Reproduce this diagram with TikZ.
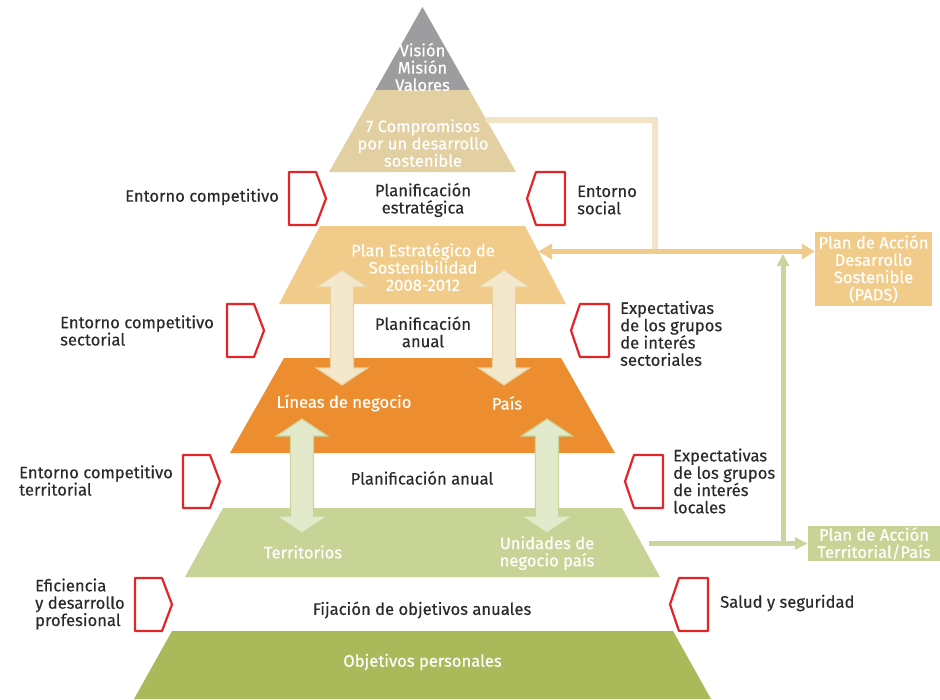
\documentclass[tikz,border=0pt]{standalone}
\usepackage{fontspec}
\setmainfont{Fira Sans}[FakeBold=0.35]
\usetikzlibrary{arrows.meta}

\definecolor{ink}{HTML}{2A2A2A}
\definecolor{tagred}{HTML}{E42528}
\definecolor{lvGrey}{HTML}{9D9C9E}
\definecolor{lvSand}{HTML}{E3D0A2}
\definecolor{lvTan}{HTML}{F0CB89}
\definecolor{lvOrange}{HTML}{EC8D2F}
\definecolor{lvLime}{HTML}{C7D496}
\definecolor{lvOlive}{HTML}{AABA5A}
\definecolor{linkSand}{HTML}{F2E4C4}
\definecolor{baFillSand}{HTML}{F4E8CC}
\definecolor{baEdgeSand}{HTML}{E9D3A4}
\definecolor{baFillLime}{HTML}{E3EACB}
\definecolor{baEdgeLime}{HTML}{C8D59C}

\newcommand{\txtfont}{\fontsize{16.6}{17.3}\selectfont}

% vertical double-headed block arrow: centre x, top tip y, bottom tip y, fill, edge
\newcommand{\blockarrow}[5]{%
  \filldraw[fill=#4, draw=#5, line width=1.2pt, line join=miter]
    (#1,#2) -- ++(25.5,17) -- ++(-14,0) -- (#1+11.5,#3-17) -- ++(14,0)
    -- (#1,#3) -- ++(-25.5,-17) -- ++(14,0) -- (#1-11.5,#2+17) -- ++(-14,0) -- cycle;}

\tikzset{
  lbl/.style={font=\txtfont, text=ink, inner sep=0pt, align=left, anchor=west},
  mid/.style={font=\txtfont, text=ink, inner sep=0pt, align=center},
  wlbl/.style={font=\txtfont, text=white, inner sep=0pt, align=center},
  panel/.style={font=\txtfont, text=white, inner sep=0pt, align=center},
  tagline/.style={draw=tagred, line width=2.2pt, line join=round},
  tagR/.pic={\draw[tagline] (0,0) -- (27,0) -- (37,26.5) -- (27,53) -- (0,53) -- cycle;},
  tagL/.pic={\draw[tagline] (0,0) -- (-29,0) -- (-38,26.5) -- (-29,53) -- (0,53) -- cycle;},
  sandlink/.style={draw=linkSand, line width=6pt},
  tanlink/.style={draw=lvTan, line width=5pt},
  limelink/.style={draw=baEdgeLime, line width=5pt},
}

\begin{document}
\begin{tikzpicture}[x=1pt, y=-1pt]
\useasboundingbox (0,0) rectangle (940,699);

% pyramid layers
\fill[lvGrey]   (422.5,7) -- (469.5,90) -- (375.5,90) -- cycle;
\fill[lvSand]   (375.5,90) -- (469.5,90) -- (516,172) -- (329,172) -- cycle;
\fill[lvTan]    (320,226) -- (525,226) -- (566,304) -- (279,304) -- cycle;
\fill[lvOrange] (284,358) -- (561,358) -- (615,453) -- (230,453) -- cycle;
\fill[lvLime]   (223,508) -- (622,508) -- (660,577) -- (185,577) -- cycle;
\fill[lvOlive]  (172,631) -- (673,631) -- (711,699) -- (134,699) -- cycle;

% block arrows between the planning levels
\blockarrow{342}{270}{385}{baFillSand}{baEdgeSand}
\blockarrow{504}{270}{385}{baFillSand}{baEdgeSand}
\blockarrow{302}{419}{533}{baFillLime}{baEdgeLime}
\blockarrow{547}{419}{533}{baFillLime}{baEdgeLime}

% texts inside the layers
\node[wlbl] (vision) at (422.5,67) {Visión\\Misión\\Valores};
\node[wlbl] (compromisos) at (423,143) {7 Compromisos\\por un desarrollo\\sostenible};
\node[wlbl] (plan) at (423,267) {Plan Estratégico de\\Sostenibilidad\\2008-2012};
\node[wlbl] (lineas) at (344,403) {Líneas de negocio};
\node[wlbl] (pais) at (507,403) {País};
\node[wlbl] (territorios) at (303,552) {Territorios};
\node[wlbl] (unidades) at (547,553) {Unidades de\\negocio país};
\node[wlbl] (objetivos) at (422.5,662) {Objetivos personales};

% texts in the gaps
\node[mid] (pestr) at (423,200) {Planificación\\estratégica};
\node[mid] (panual) at (423,332) {Planificación\\anual};
\node[mid] (panual2) at (422,478) {Planificación anual};
\node[mid] (fijacion) at (422,610) {Fijación de objetivos anuales};

% influence tags and their labels
\pic at (289,172) {tagR};
\pic at (227,304) {tagR};
\pic at (183,455) {tagR};
\pic at (135,578) {tagR};
\pic at (565,172) {tagL};
\pic at (609,304) {tagL};
\pic at (663,455) {tagL};
\pic at (708,578) {tagL};

\node[lbl] (ecomp) at (125,197) {Entorno competitivo};
\node[lbl] (esocial) at (577,200) {Entorno\\social};
\node[lbl] (esect) at (60,330.5) {Entorno competitivo\\sectorial};
\node[lbl] (expsect) at (620,333.5) {Expectativas\\de los grupos\\de interés\\sectoriales};
\node[lbl] (eterr) at (19,480.5) {Entorno competitivo\\territorial};
\node[lbl] (exploc) at (673,481) {Expectativas\\de los grupos\\de interés\\locales};
\node[lbl] (efic) at (35,604) {Eficiencia\\y desarrollo\\profesional};
\node[lbl] (salud) at (720,603) {Salud y seguridad};

% action plan panels
\node[panel, fill=lvTan, minimum width=117pt, minimum height=74pt] (pads) at (873.5,269)
  {Plan de Acción\\Desarrollo\\Sostenible\\(PADS)};
\node[panel, fill=lvLime, minimum width=132pt, minimum height=35pt] (terr) at (874,543.5)
  {Plan de Acción\\Territorial/País};

% connectors
\coordinate (cmpR) at (486,119.5);
\coordinate (elbow) at (655,119.5);
\coordinate (planR) at (538,251.5);
\coordinate (limeR) at (649,543.5);
\coordinate (riser) at (783,543.5);

\draw[sandlink] (cmpR) -- (elbow) -- (elbow |- planR);
\draw[tanlink, {Triangle[length=14pt, width=15pt]}-{Triangle[length=13pt, width=15pt]}]
  (planR) -- (pads.west |- planR);
\draw[limelink, -{Triangle[length=13pt, width=12pt]}] (limeR) -- (terr.west);
\draw[limelink, -{Triangle[length=12pt, width=12pt]}] (riser) -- ([yshift=-2.5pt]riser |- planR);

\end{tikzpicture}
\end{document}
